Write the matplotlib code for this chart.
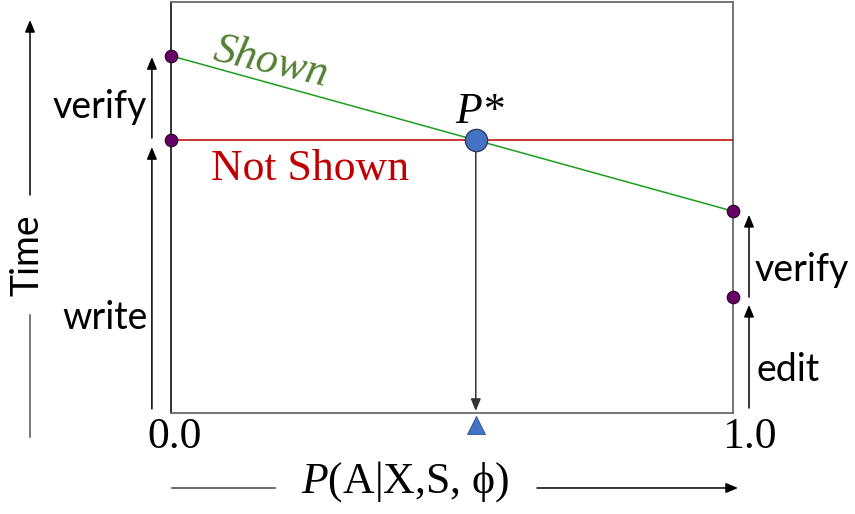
import matplotlib
matplotlib.use("Agg")
import matplotlib.pyplot as plt
from matplotlib import font_manager as fm
import numpy as np

# ---- data (time units) ----
x_ends = [0.0, 1.0]
shown_time = [8.69, 4.91]          # "Shown" line: at P=0 and P=1
not_shown_time = [6.64, 6.64]      # "Not Shown" line
write_time = 6.64                  # left: write segment
verify_left = 2.05                 # left: verify segment
edit_time = 2.82                   # right: edit segment
verify_right = 2.09                # right: verify segment
tick_pos = [0.0, 1.0]
tick_labels = ["0.0", "1.0"]

plt.rcParams['mathtext.fontset'] = 'custom'
plt.rcParams['mathtext.it'] = 'Liberation Serif:italic'
plt.rcParams['mathtext.rm'] = 'Liberation Serif'

SANS = ['Lato', 'DejaVu Sans']
SERIF = ['Liberation Serif', 'DejaVu Serif']
FS = 31.5
ital_path = fm.findfont(fm.FontProperties(family='Liberation Serif', style='italic'))
ITAL = fm.FontProperties(fname=ital_path, size=FS)

fig = plt.figure(figsize=(8.55, 5.14), dpi=100)
ax = fig.add_axes([0.2, 0.1965, 0.6573, 0.7996])
ax.set_xlim(0, 1)
ax.set_ylim(0, 10)
ax.set_xticks([])
ax.set_yticks([])
for s in ['top', 'right', 'bottom']:
    ax.spines[s].set_color('#6a6a6a')
    ax.spines[s].set_linewidth(1.3)
ax.spines['left'].set_color('#222222')
ax.spines['left'].set_linewidth(1.3)

green = '#1E9E1E'
red = '#C00000'
purple = '#660066'
blue = '#4472C4'

ax.plot(x_ends, shown_time, color=green, lw=1.1, zorder=3)
ax.plot(x_ends, not_shown_time, color=red, lw=1.1, zorder=3)

# endpoints
ax.plot([0, 0, 1, 1], [shown_time[0], not_shown_time[0], shown_time[1], edit_time],
        'o', ms=9, color=purple, mec='#220022', mew=0.8, clip_on=False, zorder=5)

# P* intersection
pstar = (shown_time[0] - not_shown_time[0]) / ((shown_time[0] - shown_time[1]) - (not_shown_time[0] - not_shown_time[1]))
ystar = not_shown_time[0]
ax.annotate('', xy=(pstar, 0.05), xytext=(pstar, ystar),
            arrowprops=dict(arrowstyle='-|>,head_length=0.6,head_width=0.25', color='#333333',
                            lw=1.1, shrinkA=0, shrinkB=0, mutation_scale=12), zorder=4)
ax.plot([pstar], [ystar], 'o', ms=16, color=blue, mec='#2F3F5F', mew=1.0, zorder=6)
ax.plot([pstar], [-0.28], '^', ms=13, color=blue, mec='#2F528F', mew=0.6, clip_on=False, zorder=6)

def varrow(x, y0, y1):
    ax.annotate('', xy=(x, y1), xytext=(x, y0), annotation_clip=False,
                arrowprops=dict(arrowstyle='-|>,head_length=0.6,head_width=0.25', color='black',
                                lw=1.1, shrinkA=0, shrinkB=0, mutation_scale=12))

gap = 0.1
# left side arrows
varrow(-0.034, gap, write_time - 0.17)
varrow(-0.034, write_time + 0.05, write_time + verify_left - 0.03)
# right side arrows
varrow(1.0285, gap + 0.02, edit_time - 0.19)
varrow(1.0285, edit_time, edit_time + verify_right - 0.09)

# labels
ax.text(-0.0427, 7.18, 'verify', family=SANS, fontsize=27, ha='right', va='baseline')
ax.text(-0.041, 2.04, 'write', family=SANS, fontsize=27, ha='right', va='baseline')
ax.text(1.039, 3.21, 'verify', family=SANS, fontsize=27, ha='left', va='baseline', clip_on=False)
ax.text(1.041, 0.78, 'edit', family=SANS, fontsize=27, ha='left', va='baseline', clip_on=False)

ax.text(0.178, 8.54, 'Shown', fontproperties=ITAL, color='#538135',
        rotation=-13, rotation_mode='anchor', ha='center', va='center')
ax.text(0.247, 5.67, 'Not Shown', family=SERIF, fontsize=FS, color=red, ha='center', va='baseline')
ax.text(0.549, 7.06, 'P*', fontproperties=ITAL, ha='center', va='baseline')

for p, lab, dx in zip(tick_pos, tick_labels, [0.007, 0.03]):
    ax.text(p + dx, -0.85, lab, family=SERIF, fontsize=FS, ha='center', va='baseline', clip_on=False)

# Time axis (figure coords)
fig.add_artist(matplotlib.patches.FancyArrowPatch((0.0351, 0.6206), (0.0351, 0.9611),
               transform=fig.transFigure, arrowstyle='-|>,head_length=0.6,head_width=0.25',
               mutation_scale=12, color='black', lw=1.1, shrinkA=0, shrinkB=0))
fig.add_artist(matplotlib.lines.Line2D([0.0351, 0.0351], [0.1498, 0.3872],
               transform=fig.transFigure, color='#555555', lw=1.1))
fig.text(0.0327, 0.504, 'Time', family=SANS, fontsize=27, rotation=90, ha='center', va='center')

# P axis (figure coords)
yb = 0.0506
fig.add_artist(matplotlib.lines.Line2D([172/855, 275/855], [yb, yb],
               transform=fig.transFigure, color='#444444', lw=1.1))
fig.add_artist(matplotlib.patches.FancyArrowPatch((537/855, yb), (738/855, yb),
               transform=fig.transFigure, arrowstyle='-|>,head_length=0.6,head_width=0.25',
               mutation_scale=12, color='black', lw=1.1, shrinkA=0, shrinkB=0))
fig.text(0.4737, 0.0409, r'$P$(A|X,S, ϕ)', family=SERIF, fontsize=FS, ha='center', va='baseline')

fig.savefig('out.png', dpi=100)
